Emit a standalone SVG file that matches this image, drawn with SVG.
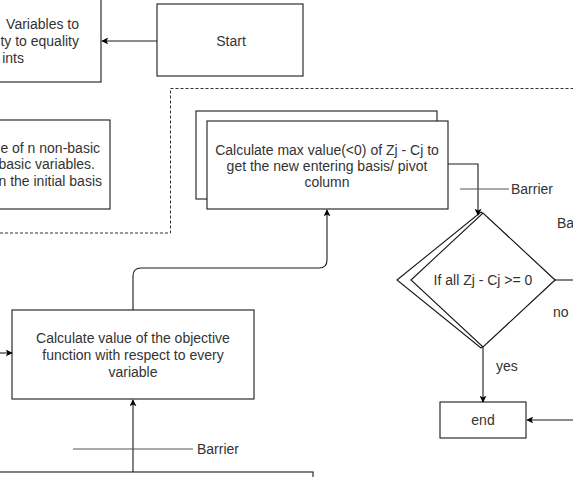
<svg xmlns="http://www.w3.org/2000/svg" width="573" height="477" viewBox="0 0 573 477">
<defs>
<marker id="arr" viewBox="0 0 10 10" refX="9" refY="5" markerWidth="7" markerHeight="7" orient="auto" markerUnits="userSpaceOnUse">
<path d="M0,0 L10,5 L0,10 L2.5,5 Z" fill="#000"/>
</marker>
<style>
.box{fill:#fff;stroke:#1a1a1a;stroke-width:1.1}
.t{font-family:"Liberation Sans",Arial,sans-serif;font-size:14px;fill:#333}
.c{stroke:#1a1a1a;stroke-width:1.1;fill:none}
.bar{stroke:#555;stroke-width:1;fill:none}
.dash{stroke:#333;stroke-width:1;fill:none;stroke-dasharray:3 2}
</style>
</defs>
<rect width="573" height="477" fill="#fff"/>
<path class="dash" d="M0,233 H170.5 V88.5 H573"/>
<g id="slack">
<rect class="box" x="-20" y="-5" width="121" height="87"/>
<text class="t" text-anchor="end" x="79" y="29">Variables to</text>
<text class="t" text-anchor="end" x="79" y="46">ty to equality</text>
<text class="t" text-anchor="end" x="24" y="63">ints</text>
</g>
<g id="start">
<rect class="box" x="157" y="4" width="146" height="72"/>
<text class="t" text-anchor="middle" x="231" y="46">Start</text>
</g>
<g id="initial">
<rect class="box" x="-20" y="120" width="130" height="89"/>
<text class="t" text-anchor="end" x="100" y="153">e of n non-basic</text>
<text class="t" text-anchor="end" x="95" y="169">basic variables.</text>
<text class="t" text-anchor="end" x="102" y="186">n the initial basis</text>
</g>
<g id="maxvalue">
<rect class="box" x="196" y="111" width="241" height="88"/>
<rect class="box" x="207" y="121" width="241" height="88"/>
<text class="t" text-anchor="middle" x="327" y="155">Calculate max value(&lt;0) of Zj - Cj to</text>
<text class="t" text-anchor="middle" x="327" y="171">get the new entering basis/ pivot</text>
<text class="t" text-anchor="middle" x="327" y="187">column</text>
</g>
<g id="decision">
<polygon class="box" points="397,280 481,212 555,280 481,348"/>
<polygon class="box" points="411,280 483,213 555,280 483,347"/>
<text class="t" text-anchor="middle" x="483" y="285">If all Zj - Cj &gt;= 0</text>
</g>
<g id="objective">
<rect class="box" x="12" y="310" width="242" height="89"/>
<text class="t" text-anchor="middle" x="133" y="343">Calculate value of the objective</text>
<text class="t" text-anchor="middle" x="133" y="360">function  with  respect to every</text>
<text class="t" text-anchor="middle" x="133" y="377">variable</text>
</g>
<g id="end">
<rect class="box" x="440" y="402" width="86" height="36"/>
<text class="t" text-anchor="middle" x="483" y="425">end</text>
</g>
<g id="bottombox">
<rect class="box" x="-20" y="472" width="333" height="20"/>
</g>
<g id="connectors">
<path class="c" d="M157,41 H102" marker-end="url(#arr)"/>
<path class="c" d="M0,353 H12" marker-end="url(#arr)"/>
<path class="c" d="M133,310 V276 Q133,268 141,268 H319 Q327,268 327,260 V210" marker-end="url(#arr)"/>
<path class="c" d="M133,472 V400" marker-end="url(#arr)"/>
<path class="c" d="M448,164 H478 V215" marker-end="url(#arr)"/>
<path class="c" d="M483,347 V402" marker-end="url(#arr)"/>
<path class="c" d="M555,280 H573"/>
<path class="c" d="M573,420 H527" marker-end="url(#arr)"/>
</g>
<g id="labels">
<path class="bar" d="M460,189 H509"/>
<text class="t" x="511" y="194">Barrier</text>
<path class="bar" d="M73,449 H193"/>
<text class="t" x="197" y="454">Barrier</text>
<text class="t" x="557" y="228">Ba</text>
<text class="t" x="553" y="317">no</text>
<text class="t" x="496" y="371">yes</text>
</g>
</svg>
